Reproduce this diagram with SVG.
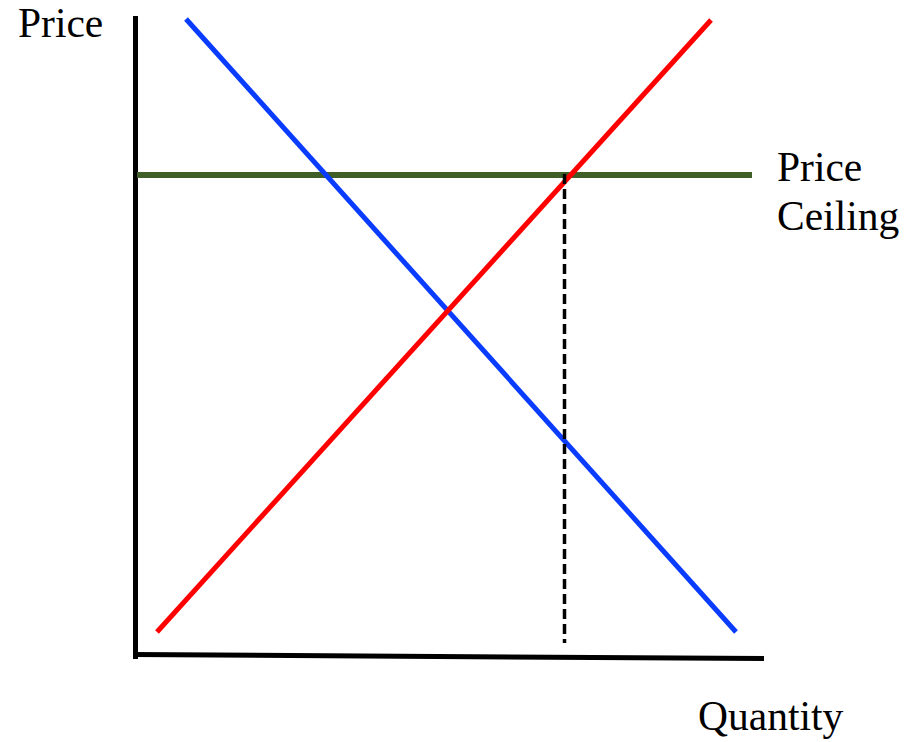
<svg xmlns="http://www.w3.org/2000/svg" width="911" height="742" viewBox="0 0 911 742">
<style>
text{font-family:"Liberation Serif","Times New Roman",serif;font-size:41.5px;fill:#000}
.ax{stroke:#000;stroke-width:5;fill:none}
</style>
<rect width="911" height="742" fill="#fff"/>
<g id="axes">
<line class="ax" x1="135.5" y1="16" x2="135.5" y2="659"/>
<line class="ax" x1="133" y1="654.5" x2="764" y2="658.5"/>
</g>
<g id="connectors">
<line id="ceiling" x1="137" y1="175" x2="752" y2="175" stroke="#405e28" stroke-width="6"/>
<line id="demand" x1="186" y1="19" x2="736" y2="632" stroke="#0a3cff" stroke-width="5"/>
<line id="supply" x1="157" y1="632" x2="711" y2="20" stroke="#ff0000" stroke-width="5"/>
<line id="qty" x1="564.5" y1="174" x2="564.5" y2="643" stroke="#000" stroke-width="3.5" stroke-dasharray="10 5"/>
</g>
<g id="labels">
<text x="18" y="37">Price</text>
<text x="777" y="181">Price</text>
<text x="777" y="230">Ceiling</text>
<text x="698" y="730">Quantity</text>
</g>
</svg>
